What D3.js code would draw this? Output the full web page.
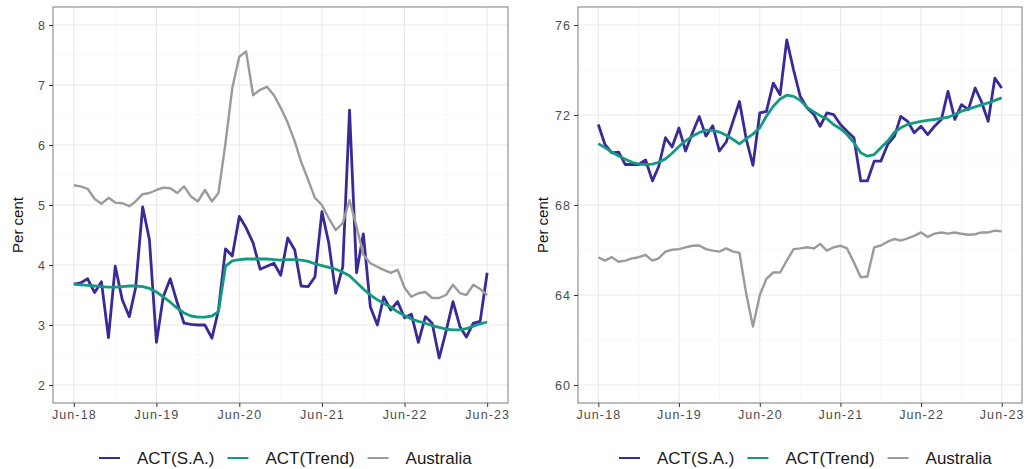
<!DOCTYPE html>
<html>
<head>
<meta charset="utf-8">
<script src="https://cdn.jsdelivr.net/npm/d3@7"></script>
<style>
  body { margin: 0; background: #fff; }
  svg { display: block; font-family: "Liberation Sans", Arial, sans-serif; }
</style>
</head>
<body>
<svg id="chart" width="1028" height="469"></svg>
<script>
// monthly observations, Jun-2018 .. Jun-2023
const startMonth = new Date(2018, 5, 1);
const tickLabels = ['Jun-18', 'Jun-19', 'Jun-20', 'Jun-21', 'Jun-22', 'Jun-23'];
const seriesNames = ['ACT(S.A.)', 'ACT(Trend)', 'Australia'];
const seriesColors = ['#3a2a98', '#149a80', '#9b9b9b'];

// unemployment rate (left panel)
const actUnempSA = [
  3.68, 3.70, 3.77, 3.54, 3.72, 2.79, 3.98, 3.42, 3.14, 3.62, 4.97, 4.42,
  2.71, 3.47, 3.77, 3.37, 3.03, 3.01, 3.00, 3.00, 2.78, 3.25, 4.27, 4.15,
  4.81, 4.62, 4.37, 3.93, 3.98, 4.03, 3.83, 4.45, 4.25, 3.65, 3.64, 3.80,
  4.89, 4.37, 3.53, 3.97, 6.58, 3.87, 4.52, 3.30, 3.00, 3.47, 3.25, 3.39,
  3.12, 3.18, 2.71, 3.14, 3.03, 2.45, 2.89, 3.39, 2.97, 2.80, 3.03, 3.06,
  3.87
];
const actUnempTrend = [
  3.68, 3.67, 3.66, 3.65, 3.64, 3.63, 3.63, 3.64, 3.65, 3.65, 3.64, 3.61,
  3.55, 3.47, 3.38, 3.28, 3.20, 3.15, 3.13, 3.13, 3.15, 3.22, 3.98, 4.07,
  4.09, 4.10, 4.10, 4.10, 4.10, 4.09, 4.08, 4.09, 4.09, 4.08, 4.06, 4.02,
  3.99, 3.96, 3.93, 3.88, 3.82, 3.71, 3.60, 3.50, 3.42, 3.36, 3.30, 3.22,
  3.16, 3.10, 3.06, 3.03, 2.99, 2.96, 2.93, 2.92, 2.92, 2.94, 2.98, 3.02,
  3.05
];
const ausUnemp = [
  5.33, 5.31, 5.27, 5.10, 5.02, 5.12, 5.04, 5.03, 4.98, 5.06, 5.18, 5.20,
  5.25, 5.29, 5.28, 5.20, 5.31, 5.14, 5.06, 5.25, 5.06, 5.20, 6.03, 6.95,
  7.47, 7.56, 6.83, 6.92, 6.97, 6.83, 6.62, 6.37, 6.06, 5.72, 5.42, 5.12,
  5.00, 4.78, 4.58, 4.70, 5.08, 4.64, 4.17, 4.03, 3.97, 3.92, 3.87, 3.92,
  3.62, 3.47, 3.53, 3.55, 3.45, 3.45, 3.50, 3.67, 3.53, 3.50, 3.67, 3.60,
  3.50
];

// participation rate (right panel)
const actPartSA = [
  71.58, 70.69, 70.32, 70.35, 69.80, 69.80, 69.80, 70.00, 69.07, 69.70, 70.99, 70.58,
  71.42, 70.40, 71.20, 71.93, 71.06, 71.52, 70.40, 70.80, 71.72, 72.60, 70.91, 69.76,
  72.09, 72.16, 73.42, 72.90, 75.34, 74.00, 72.83, 72.31, 72.02, 71.50, 72.09, 72.02,
  71.58, 71.28, 70.99, 69.07, 69.07, 69.95, 69.95, 70.69, 71.06, 71.94, 71.72, 71.21,
  71.50, 71.13, 71.50, 71.80, 73.05, 71.80, 72.46, 72.24, 73.20, 72.60, 71.72, 73.64,
  73.20
];
const actPartTrend = [
  70.73, 70.55, 70.35, 70.18, 70.03, 69.90, 69.82, 69.80, 69.82, 69.90, 70.05, 70.30,
  70.60, 70.85, 71.06, 71.22, 71.33, 71.32, 71.24, 71.10, 70.91, 70.72, 70.95, 71.15,
  71.43, 71.95, 72.39, 72.71, 72.88, 72.83, 72.65, 72.34, 72.14, 71.97, 71.83, 71.58,
  71.39, 71.13, 70.77, 70.32, 70.17, 70.24, 70.54, 70.84, 71.24, 71.43, 71.58, 71.65,
  71.72, 71.76, 71.80, 71.85, 71.90, 72.02, 72.17, 72.26, 72.36, 72.45, 72.54, 72.65,
  72.76
];
const ausPart = [
  65.68, 65.53, 65.68, 65.48, 65.53, 65.63, 65.68, 65.78, 65.53, 65.63, 65.93, 66.01,
  66.04, 66.12, 66.19, 66.20, 66.04, 65.97, 65.93, 66.07, 65.93, 65.87, 64.03, 62.60,
  64.00, 64.72, 65.00, 65.00, 65.53, 66.04, 66.07, 66.12, 66.07, 66.27, 65.97, 66.12,
  66.19, 66.07, 65.45, 64.79, 64.82, 66.12, 66.20, 66.37, 66.49, 66.42, 66.52, 66.63,
  66.78, 66.58, 66.73, 66.78, 66.73, 66.78, 66.72, 66.68, 66.70, 66.78, 66.78, 66.86,
  66.83
];

const leftTicks = [2, 3, 4, 5, 6, 7, 8];
const rightTicks = [60, 64, 68, 72, 76];

const svg = d3.select('#chart');
const months = d3.range(actUnempSA.length).map(i => d3.timeMonth.offset(startMonth, i));
const tickDates = tickLabels.map((d, i) => d3.timeMonth.offset(startMonth, i * 12));
const minorDates = tickDates.slice(0, -1).map(d => d3.timeMonth.offset(d, 6));

function drawPanel(p) {
  const g = svg.append('g');
  const lo = p.yTicks[0], hi = p.yTicks[p.yTicks.length - 1];
  const pad = (hi - lo) * 0.05;

  const x = d3.scaleTime()
    .domain([d3.timeMonth.offset(months[0], -3), d3.timeMonth.offset(months[months.length - 1], 3)])
    .range([p.left, p.right]);
  const y = d3.scaleLinear()
    .domain([lo - pad, hi + pad])
    .range([p.bottom, p.top]);

  const step = p.yTicks[1] - p.yTicks[0];
  const yMinor = p.yTicks.slice(0, -1).map(v => v + step / 2);

  // grid
  g.selectAll('.ymin').data(yMinor).join('line')
    .attr('x1', p.left).attr('x2', p.right)
    .attr('y1', d => y(d)).attr('y2', d => y(d))
    .attr('stroke', '#f2f2f2').attr('stroke-width', 0.6);
  g.selectAll('.xmin').data(minorDates).join('line')
    .attr('x1', d => x(d)).attr('x2', d => x(d))
    .attr('y1', p.top).attr('y2', p.bottom)
    .attr('stroke', '#f2f2f2').attr('stroke-width', 0.6);
  g.selectAll('.ymaj').data(p.yTicks).join('line')
    .attr('x1', p.left).attr('x2', p.right)
    .attr('y1', d => y(d)).attr('y2', d => y(d))
    .attr('stroke', '#e8e8e8').attr('stroke-width', 1);
  g.selectAll('.xmaj').data(tickDates).join('line')
    .attr('x1', d => x(d)).attr('x2', d => x(d))
    .attr('y1', p.top).attr('y2', p.bottom)
    .attr('stroke', '#e8e8e8').attr('stroke-width', 1);

  // lines
  const line = d3.line()
    .x((d, i) => x(months[i]))
    .y(d => y(d));

  p.series.forEach((s, k) => {
    g.append('path')
      .datum(s)
      .attr('fill', 'none')
      .attr('stroke', seriesColors[k])
      .attr('stroke-width', k === 2 ? 2.4 : 2.8)
      .attr('stroke-linejoin', 'round')
      .attr('d', line);
  });

  // border
  g.append('rect')
    .attr('x', p.left).attr('y', p.top)
    .attr('width', p.right - p.left).attr('height', p.bottom - p.top)
    .attr('fill', 'none').attr('stroke', '#7d7d7d').attr('stroke-width', 1);

  // axes
  const xAxis = d3.axisBottom(x)
    .tickValues(tickDates)
    .tickFormat((d, i) => tickLabels[i])
    .tickSize(4).tickPadding(3);
  const xg = g.append('g').attr('transform', `translate(0,${p.bottom})`).call(xAxis);
  const yAxis = d3.axisLeft(y).tickValues(p.yTicks).tickFormat(d3.format('d'))
    .tickSize(4).tickPadding(3);
  const yg = g.append('g').attr('transform', `translate(${p.left},0)`).call(yAxis);
  [xg, yg].forEach(a => {
    a.select('.domain').remove();
    a.selectAll('.tick line').attr('stroke', '#333');
    a.selectAll('.tick text').attr('fill', '#4d4d4d')
      .style('font-size', '12.5px')
      .style('letter-spacing', '1.1px')
      .style('font-family', '"Liberation Sans", Arial, sans-serif');
  });

  g.append('text')
    .attr('transform', `translate(${p.left - 30},${(p.top + p.bottom) / 2 + 20}) rotate(-90)`)
    .attr('text-anchor', 'middle')
    .attr('fill', '#111')
    .style('font-size', '15px')
    .text('Per cent');

  // legend
  let lx = p.legendX;
  const ly = 458;
  seriesNames.forEach((name, k) => {
    g.append('line')
      .attr('x1', lx).attr('x2', lx + 21)
      .attr('y1', ly).attr('y2', ly)
      .attr('stroke', seriesColors[k]).attr('stroke-width', 2);
    const t = g.append('text')
      .attr('x', lx + 38).attr('y', ly + 6)
      .attr('fill', '#1a1a1a')
      .style('font-size', '17px')
      .text(name);
    lx += 38 + t.node().getComputedTextLength() + 13;
  });
}

drawPanel({
  left: 53, right: 508, top: 7, bottom: 403,
  yTicks: leftTicks,
  series: [actUnempSA, actUnempTrend, ausUnemp],
  legendX: 99
});

drawPanel({
  left: 578, right: 1022, top: 7, bottom: 403,
  yTicks: rightTicks,
  series: [actPartSA, actPartTrend, ausPart],
  legendX: 619
});
</script>
</body>
</html>
